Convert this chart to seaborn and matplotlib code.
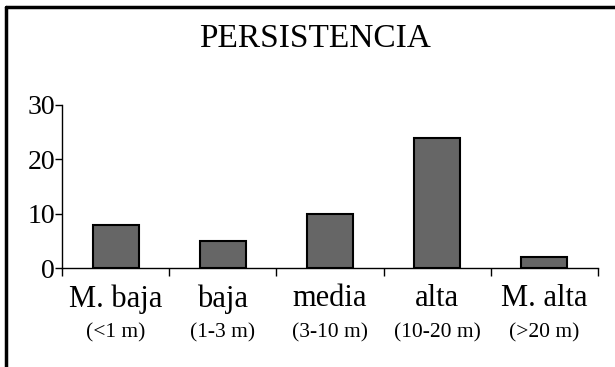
import matplotlib
matplotlib.use("Agg")
import matplotlib.pyplot as plt
import matplotlib.transforms as mtransforms
import seaborn as sns
import pandas as pd

categorias = ["M. baja", "baja", "media", "alta", "M. alta"]
rangos = ["(<1 m)", "(1-3 m)", "(3-10 m)", "(10-20 m)", "(>20 m)"]
valores = [8, 5, 10, 24, 2]
y_ticks = [0, 10, 20, 30]

sns.set_style("white")
plt.rcParams["font.family"] = ["Liberation Serif", "DejaVu Serif"]
plt.rcParams["text.color"] = "black"
plt.rcParams["ytick.color"] = "black"
plt.rcParams["xtick.color"] = "black"

df = pd.DataFrame({"categoria": categorias, "valor": valores})

fig = plt.figure(figsize=(6.15, 3.67), dpi=100)
ax = fig.add_axes([62 / 615, 1 - 268 / 367, 536 / 615, 163 / 367])

sns.barplot(data=df, x="categoria", y="valor", color="#666666", width=0.43,
            edgecolor="black", linewidth=1.5, saturation=1, ax=ax)

ax.set_xlim(-0.5, len(categorias) - 0.5)
ax.set_ylim(0, 30)
ax.set_yticks(y_ticks)
ax.set_xlabel("")
ax.set_ylabel("")
ax.set_xticks(range(len(categorias)))
ax.set_xticklabels([])
ax.tick_params(axis="x", which="major", length=0)
ax.set_xticks([i - 0.5 for i in range(len(categorias) + 1)], minor=True)
ax.tick_params(axis="x", which="minor", length=6, width=1, direction="out", color="black", bottom=True)
ax.tick_params(axis="y", length=5, width=1, direction="out", color="black", labelcolor="black",
               left=True, labelsize=20, pad=0)

sns.despine(ax=ax)
for s in ["left", "bottom"]:
    ax.spines[s].set_color("black")
    ax.spines[s].set_linewidth(1)

trans = mtransforms.blended_transform_factory(ax.transData, fig.transFigure)
for i, (cat, rng) in enumerate(zip(categorias, rangos)):
    ax.text(i, 1 - 299 / 367, cat, transform=trans, ha="center", va="center", fontsize=22, color="black")
    ax.text(i, 1 - 333 / 367, rng, transform=trans, ha="center", va="center", fontsize=15.5, color="black")

fig.text(315 / 615, 1 - 39 / 367, "PERSISTENCIA", ha="center", va="center", fontsize=24, color="black")

# marco exterior (solo arriba e izquierda visibles)
fig.add_artist(plt.Line2D([6 / 615, 1], [1 - 7 / 367, 1 - 7 / 367], color="black", linewidth=2.5,
                          transform=fig.transFigure))
fig.add_artist(plt.Line2D([6 / 615, 6 / 615], [0, 1 - 7 / 367], color="black", linewidth=2.5,
                          transform=fig.transFigure))

fig.savefig("out.png", dpi=100, facecolor="white")
